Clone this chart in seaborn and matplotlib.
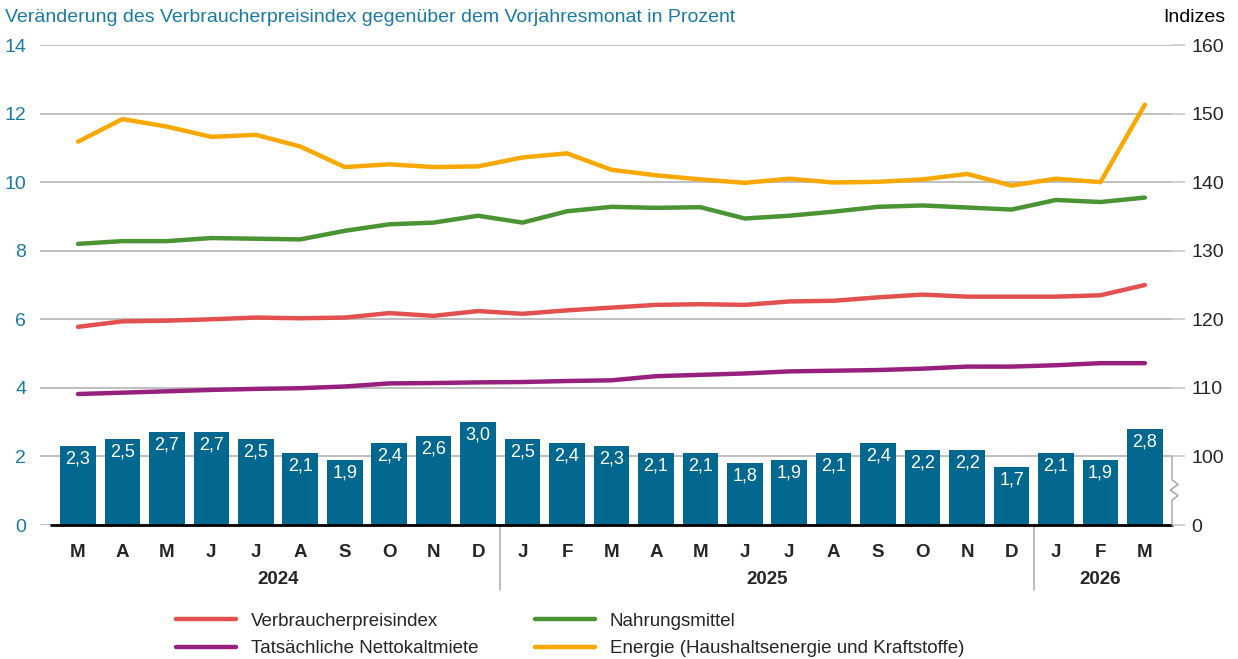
import matplotlib
matplotlib.use("Agg")
import matplotlib.pyplot as plt
import matplotlib.transforms as mtransforms
from matplotlib.lines import Line2D
import seaborn as sns
import numpy as np
import pandas as pd

# --- data ---
months = ["M", "A", "M", "J", "J", "A", "S", "O", "N", "D",
          "J", "F", "M", "A", "M", "J", "J", "A", "S", "O", "N", "D",
          "J", "F", "M"]
years = ["2024", "2025", "2026"]
year_counts = [10, 12, 3]

vpi_change = [2.3, 2.5, 2.7, 2.7, 2.5, 2.1, 1.9, 2.4, 2.6, 3.0,
              2.5, 2.4, 2.3, 2.1, 2.1, 1.8, 1.9, 2.1, 2.4, 2.2, 2.2, 1.7,
              2.1, 1.9, 2.8]

vpi_index = [118.9, 119.7, 119.8, 120.0, 120.25, 120.15, 120.25, 120.9, 120.5, 121.2,
             120.8, 121.3, 121.7, 122.1, 122.2, 122.1, 122.6, 122.7, 123.2, 123.6, 123.3, 123.3,
             123.3, 123.5, 125.0]
food_index = [131.0, 131.4, 131.4, 131.85, 131.75, 131.65, 132.9, 133.85, 134.1, 135.1,
              134.1, 135.75, 136.4, 136.25, 136.35, 134.7, 135.1, 135.7, 136.4, 136.6, 136.3, 136.0,
              137.4, 137.1, 137.75]
rent_index = [109.1, 109.3, 109.5, 109.7, 109.85, 109.95, 110.2, 110.65, 110.7, 110.8,
              110.85, 111.0, 111.1, 111.7, 111.9, 112.1, 112.4, 112.5, 112.6, 112.8, 113.1, 113.1,
              113.3, 113.6, 113.6]
energy_index = [145.9, 149.2, 148.1, 146.6, 146.9, 145.2, 142.2, 142.6, 142.2, 142.3,
                143.6, 144.2, 141.8, 141.0, 140.4, 139.9, 140.5, 139.95, 140.05, 140.4, 141.2, 139.5,
                140.5, 140.0, 151.3]

series_names = ["Verbraucherpreisindex", "Tatsächliche Nettokaltmiete",
                "Nahrungsmittel", "Energie (Haushaltsenergie und Kraftstoffe)"]
series_values = [vpi_index, rent_index, food_index, energy_index]
series_colors = ["#e2504f", "#97207e", "#4a9434", "#f9a800"]

left_ticks = [0, 2, 4, 6, 8, 10, 12, 14]
right_ticks = [90, 100, 110, 120, 130, 140, 150, 160]
right_labels = ["0", "100", "110", "120", "130", "140", "150", "160"]

bar_color = "#02688f"
teal = "#1b7aa3"
grid_color = "#b4b4b4"

sns.set_style("white")
plt.rcParams["font.family"] = ["Liberation Sans", "DejaVu Sans"]

pos = np.arange(len(months))
df_bar = pd.DataFrame({"pos": pos, "value": vpi_change})
df_lines = pd.DataFrame({
    "pos": np.tile(pos, len(series_names)),
    "index": np.concatenate(series_values),
    "series": np.repeat(series_names, len(pos)),
})

fig = plt.figure(figsize=(12.38, 6.59), dpi=100)
ax = fig.add_axes([40 / 1238, 1 - 525 / 659, (1172 - 40) / 1238, 480 / 659])

# bars (left axis, percent)
sns.barplot(data=df_bar, x="pos", y="value", color=bar_color, saturation=1,
            width=0.8, linewidth=0, edgecolor=bar_color, ax=ax, zorder=2)
for x, v in zip(pos, vpi_change):
    ax.text(x, v - 0.13, f"{v:.1f}".replace(".", ","), ha="center", va="top",
            color="white", fontsize=13, zorder=3)

ax.set_xlim(-0.855, len(months) - 1 + 0.61)
ax.set_ylim(0, 14)
ax.set_yticks(left_ticks)
ax.set_yticklabels([str(t) for t in left_ticks], color=teal, fontsize=14)
ax.tick_params(axis="y", length=0, pad=10)
ax.yaxis.grid(True, color=grid_color, linewidth=1.2)
ax.set_axisbelow(True)
for s in ax.spines.values():
    s.set_visible(False)
ax.plot([-0.6, len(months) - 1 + 0.61], [0, 0], color="black", linewidth=2,
        zorder=4, clip_on=False)

ax.set_xticks(pos)
ax.set_xticklabels(months, fontsize=13.5, fontweight="bold")
ax.tick_params(axis="x", length=0, pad=14)
ax.set_xlabel("")
ax.set_ylabel("")

# years + separators
trans = mtransforms.blended_transform_factory(ax.transData, ax.transAxes)
start = 0
for i, (yr, n) in enumerate(zip(years, year_counts)):
    ax.text(start + (n - 1) / 2, -0.113, yr, transform=trans, ha="center", va="center",
            fontsize=13.5, fontweight="bold")
    if i > 0:
        ax.plot([start - 0.5, start - 0.5], [0, -0.135], transform=trans,
                color="#b0b0b0", linewidth=1.2, clip_on=False)
    start += n

# lines (right axis, index)
ax2 = ax.twinx()
sns.lineplot(data=df_lines, x="pos", y="index", hue="series", palette=series_colors,
             hue_order=series_names, linewidth=3.2, ax=ax2, legend=False)
ax2.set_ylim(90, 160)
ax2.set_yticks(right_ticks)
ax2.set_yticklabels(right_labels, fontsize=14)
ax2.tick_params(axis="y", length=9, color="#c8c8c8", width=1.2, pad=5)
ax2.set_xlabel("")
ax2.set_ylabel("")
for s in ax2.spines.values():
    s.set_visible(False)

# axis break on the right
btrans = mtransforms.blended_transform_factory(ax2.transAxes, ax2.transData)
dx = 6 / 1132
ax2.plot([1, 1, 1 + dx, 1 - 0.3 * dx, 1 + dx, 1, 1],
         [90, 93.6, 94.3, 95.1, 95.9, 96.6, 100],
         transform=btrans, color="#a0a0a0", linewidth=1, clip_on=False)

fig.text(5 / 1238, 1 - 17 / 659, "Veränderung des Verbraucherpreisindex gegenüber dem Vorjahresmonat in Prozent",
         color=teal, fontsize=14, ha="left", va="center")
fig.text(1225 / 1238, 1 - 17 / 659, "Indizes", color="black", fontsize=14,
         ha="right", va="center")

handles = [Line2D([0], [0], color=c, linewidth=3.2) for c in series_colors]
fig.legend(handles, series_names, ncol=2, loc="center", bbox_to_anchor=(570 / 1238, 1 - 635 / 659),
           frameon=False, fontsize=13.5, handlelength=3.2, columnspacing=3.0,
           labelspacing=0.55, handletextpad=0.8)

fig.savefig("out.png", dpi=100)
